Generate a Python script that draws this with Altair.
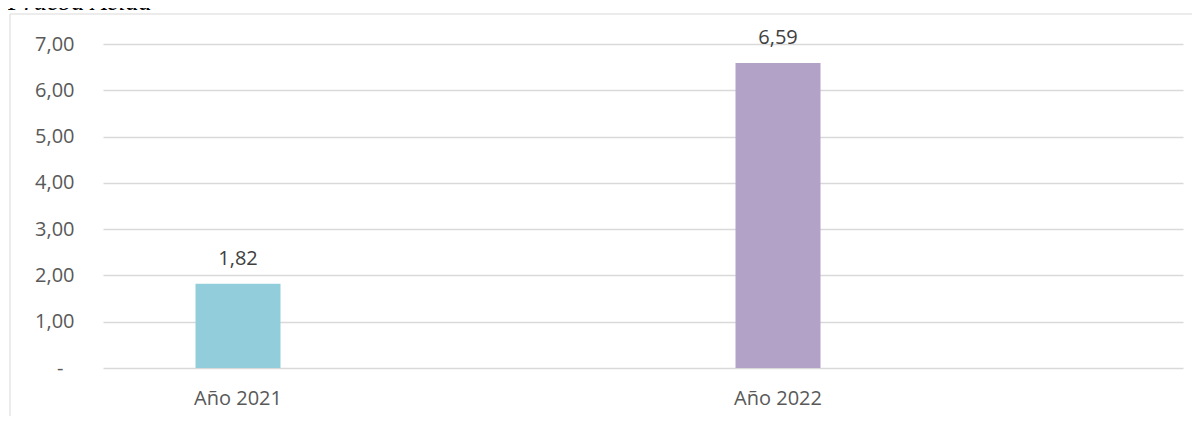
import altair as alt
import pandas as pd

categories = ["Año 2021", "Año 2022"]
x_domain = ["Año 2021", " ", "Año 2022", "  "]
values = [1.82, 6.59]
colors = ["#92CDDC", "#B2A2C7"]
labels = ["1,82", "6,59"]
y_ticks = [0, 1, 2, 3, 4, 5, 6, 7]
title_text = "Prueba Ácida"

df = pd.DataFrame({"cat": categories, "val": values, "lab": labels})

FONT = "Open Sans"
FS = 20

x_enc = alt.X("cat:N", title=None,
              scale=alt.Scale(domain=x_domain, paddingInner=0, paddingOuter=0),
              axis=alt.Axis(labelAngle=0, ticks=False, domain=False, grid=False,
                            labelFont=FONT, labelFontSize=FS, labelColor="#595959",
                            labelBaseline="alphabetic", labelPadding=36))
y_enc = alt.Y("val:Q", title=None,
              scale=alt.Scale(domain=[0, 7], nice=False, zero=True),
              axis=alt.Axis(values=y_ticks, ticks=False, domain=False, grid=True,
                            gridColor="#D9D9D9", gridWidth=1.5,
                            labelFont=FONT, labelFontSize=FS, labelColor="#595959",
                            labelPadding={"condition": {"test": "datum.value == 0", "value": 40}, "value": 29},
                            labelExpr="datum.value == 0 ? '-' : replace(format(datum.value, '.2f'), '.', ',')"))

bars = alt.Chart(df).mark_bar(size=85).encode(
    x=x_enc, y=y_enc,
    color=alt.Color("cat:N", scale=alt.Scale(domain=categories, range=colors), legend=None),
)

text = alt.Chart(df).mark_text(font=FONT, fontSize=FS, color="#404040",
                               baseline="alphabetic", dy=-19).encode(
    x=alt.X("cat:N"),
    y=alt.Y("val:Q"),
    text="lab:N",
)

frame = alt.Chart(alt.Data(values=[{"a": 1}])).mark_rect(
    fill=None, stroke="#D9D9D9", strokeWidth=1
).encode(x=alt.value(-93), x2=alt.value(1200), y=alt.value(-30), y2=alt.value(500))

title = alt.Chart(alt.Data(values=[{"t": title_text}])).mark_text(
    font="Liberation Serif", fontStyle="italic", fontSize=26, color="#000000",
    align="left", baseline="alphabetic"
).encode(x=alt.value(-95), y=alt.value(-34), text="t:N")

chart = alt.layer(frame, bars, text, title).properties(
    width=1080, height=324,
    autosize=alt.AutoSizeParams(type="none"),
    padding={"left": 95, "top": 36, "right": 9, "bottom": 48},
    background="white",
).configure_view(strokeWidth=0, stroke="transparent")

chart.save("out.html", embed_options={"renderer": "svg", "actions": False})
